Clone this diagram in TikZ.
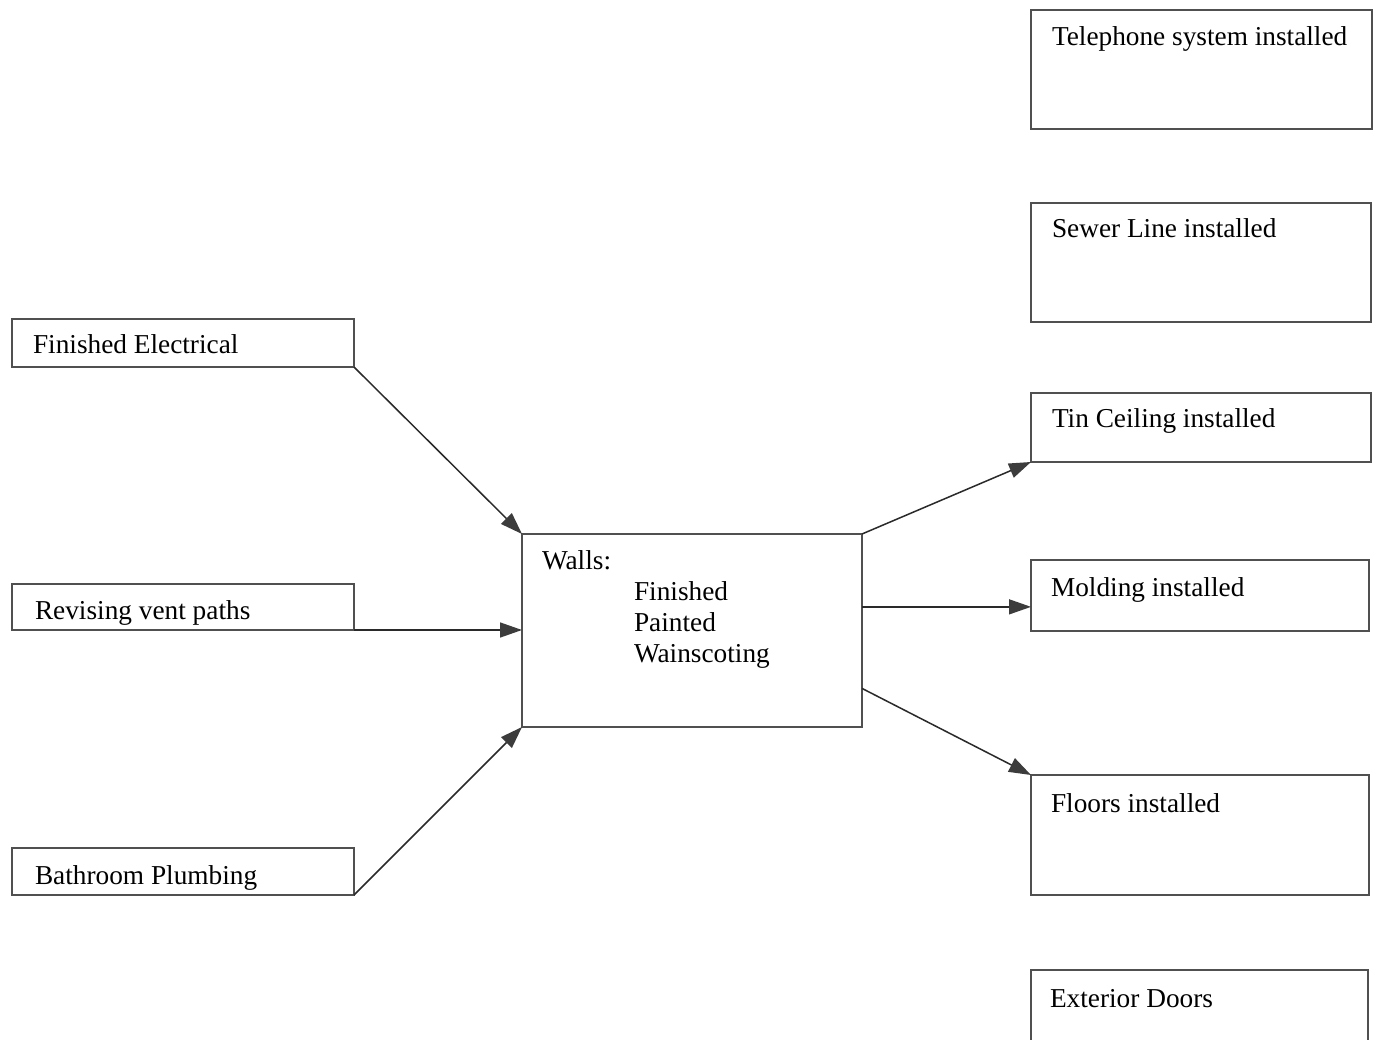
\documentclass[tikz,border=0pt]{standalone}
\usepackage{fontspec}
\setmainfont{Liberation Serif}
\usetikzlibrary{arrows.meta,calc}
\definecolor{boxline}{HTML}{505050}
\definecolor{conline}{HTML}{2A2A2A}
\definecolor{tipfill}{HTML}{3C3C3C}
\tikzset{
  box/.style={draw=boxline,line width=1.4pt,rectangle,inner sep=0pt,outer sep=0pt,anchor=north west},
  lbl/.style={anchor=base west,inner sep=0pt,outer sep=0pt,font=\fontsize{27.3}{31}\selectfont,text=black},
  conn/.style={draw=conline,line width=1.5pt,-{Triangle[length=22pt,width=15pt,fill=tipfill,color=tipfill]}}
}
\begin{document}
\begin{tikzpicture}[x=1pt,y=-1pt]
\clip (0,0) rectangle (1376,1040);
\fill[white] (0,0) rectangle (1376,1040);
% left boxes
\node[box,minimum width=342pt,minimum height=48pt] (fe) at (12,319) {};
\node[lbl] (fet) at (33,354) {Finished Electrical};
\node[box,minimum width=342pt,minimum height=46pt] (rv) at (12,584) {};
\node[lbl] (rvt) at (35,619) {Revising vent paths};
\node[box,minimum width=342pt,minimum height=47pt] (bp) at (12,848) {};
\node[lbl] (bpt) at (35,884) {Bathroom Plumbing};
% central box
\node[box,minimum width=340pt,minimum height=193pt] (walls) at (522,534) {};
\node[lbl] (wt) at (542,569) {Walls:};
\node[lbl] (wf) at (634,600) {Finished};
\node[lbl] (wp) at (634,631) {Painted};
\node[lbl] (ww) at (634,662) {Wainscoting};
% right boxes
\node[box,minimum width=341pt,minimum height=119pt] (tel) at (1031,10) {};
\node[lbl] (telt) at (1052,46) {Telephone system installed};
\node[box,minimum width=340pt,minimum height=119pt] (sew) at (1031,203) {};
\node[lbl] (sewt) at (1052,238) {Sewer Line installed};
\node[box,minimum width=340pt,minimum height=69pt] (tin) at (1031,393) {};
\node[lbl] (tint) at (1052,427) {Tin Ceiling installed};
\node[box,minimum width=338pt,minimum height=71pt] (mol) at (1031,560) {};
\node[lbl] (molt) at (1051,596) {Molding installed};
\node[box,minimum width=338pt,minimum height=120pt] (flo) at (1031,775) {};
\node[lbl] (flot) at (1051,812) {Floors installed};
\node[box,minimum width=337pt,minimum height=110pt] (ext) at (1031,970) {};
\node[lbl] (extt) at (1050,1007) {Exterior Doors};
% connectors
\coordinate (wfl) at ($(walls.south east)!0.2!(walls.north east)$);
\coordinate (mi) at ($(mol.north west)!0.66!(mol.south west)$);
\draw[conn] (fe.south east) -- (walls.north west);
\draw[conn] (rv.south east) -- (walls.west |- rv.south east);
\draw[conn] (bp.south east) -- (walls.south west);
\draw[conn] (walls.north east) -- (tin.south west);
\draw[conn] (walls.east |- mi) -- (mi);
\draw[conn] (wfl) -- (flo.north west);
\end{tikzpicture}
\end{document}
